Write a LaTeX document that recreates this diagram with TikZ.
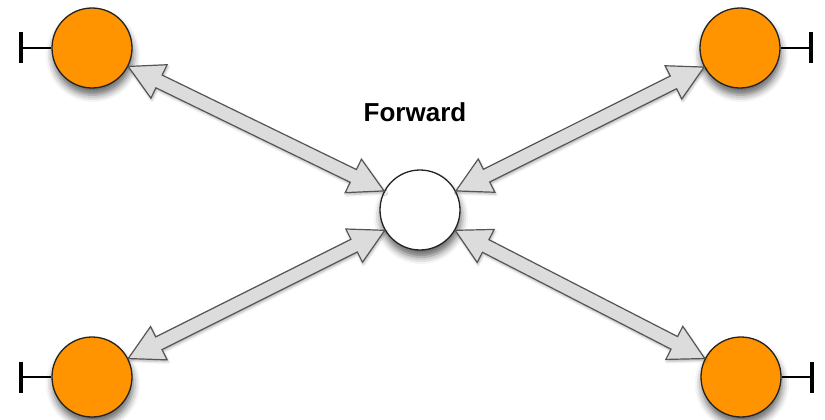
\documentclass[tikz,border=0pt]{standalone}
\usepackage{fontspec}
\setmainfont{Liberation Sans}
\usetikzlibrary{shapes.arrows,calc,arrows.meta,shadows.blur}

\definecolor{peerfill}{RGB}{255,147,0}
\definecolor{rim}{RGB}{35,35,35}
\definecolor{linkfill}{RGB}{220,220,220}
\definecolor{linkrim}{RGB}{85,85,85}

\tikzset{
  hub/.style={circle, minimum size=80pt, inner sep=0pt, draw=rim, line width=1.3pt,
    fill=white,
    blur shadow={shadow xshift=1pt, shadow yshift=-7pt, shadow blur radius=7pt, shadow opacity=60}},
  peer/.style={hub, fill=peerfill},
  link/.style={double arrow, draw=linkrim, fill=linkfill, line width=1.2pt,
    inner xsep=0pt, inner ysep=6.5pt, minimum width=0pt,
    double arrow head extend=11.5pt, double arrow tip angle=57,
    blur shadow={shadow xshift=1pt, shadow yshift=-2pt, shadow blur radius=2.5pt, shadow opacity=30}},
  tether/.style={line width=2.5pt, -{Bar[width=31pt, line width=4pt]}},
  caption/.style={font=\bfseries\fontsize{26}{30}\selectfont, inner sep=0pt}
}

% two-headed link from one anchor to another
\newcommand\twoway[2]{%
  \path let \p1=(#1), \p2=(#2),
    \n1={atan2(\y2-\y1,\x2-\x1)}, \n2={veclen(\x2-\x1,\y2-\y1)} in
    node[link, minimum height=\n2, rotate=\n1] at ($(\p1)!0.5!(\p2)$) {};}

\begin{document}
\begin{tikzpicture}[x=1pt, y=-1pt]
  \useasboundingbox (0,0) rectangle (825,420);

  % peers and the forwarding node
  \node[peer] (tl) at (92,48) {};
  \node[peer] (tr) at (740,48) {};
  \node[peer] (bl) at (92,377) {};
  \node[peer] (br) at (741,377) {};
  \node[hub]  (c)  at (420,210) {};

  \node[caption] (lbl) at (415,112) {Forward};

  % terminated stubs on the outer side of each peer
  \draw[tether] (tl.west) -- ++(-32,0);
  \draw[tether] (bl.west) -- ++(-32,0);
  \draw[tether] (tr.east) -- ++(32,0);
  \draw[tether] (br.east) -- ++(32,0);

  % links between peers and the forwarding node
  \twoway{tl.-27}{c.152}
  \twoway{tr.208}{c.28}
  \twoway{bl.27}{c.210}
  \twoway{br.153}{c.330}
\end{tikzpicture}
\end{document}
